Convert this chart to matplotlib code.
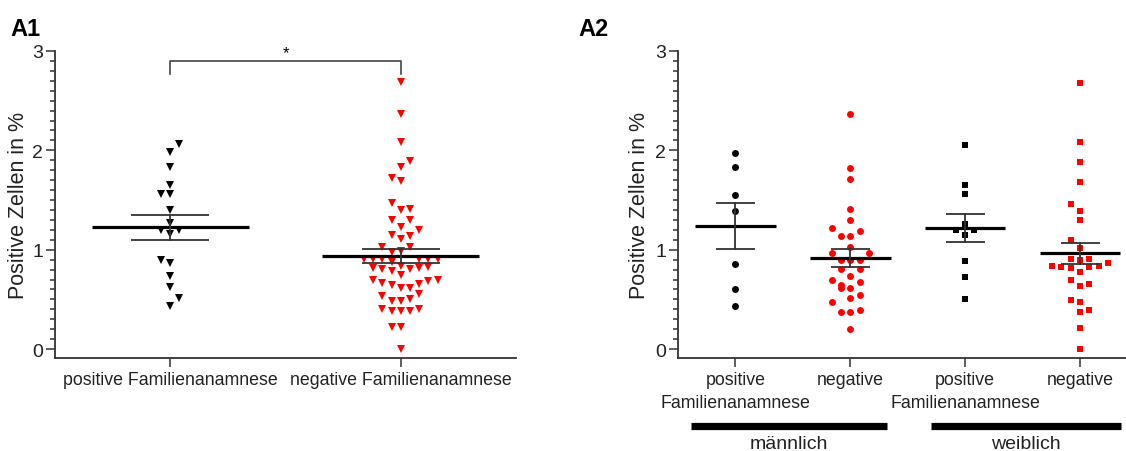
import numpy as np
import matplotlib
matplotlib.use("Agg")
import matplotlib.pyplot as plt
import matplotlib.transforms as mtransforms

plt.rcParams['font.family'] = ['Liberation Sans', 'DejaVu Sans']

# ---- Daten ----
# A1: alle Patienten
a1_labels = ["positive Familienanamnese", "negative Familienanamnese"]
a1_pos = [2.06, 1.98, 1.83, 1.65, 1.56, 1.56, 1.40, 1.27, 1.20, 1.20,
          1.16, 0.90, 0.87, 0.74, 0.62, 0.51, 0.43]
a1_neg = [2.69, 2.37, 2.08, 1.89, 1.83, 1.72, 1.69, 1.47, 1.40, 1.41,
          1.30, 1.30, 1.23, 1.20, 1.15, 1.14, 1.11, 1.03, 1.03, 0.98,
          0.99, 0.91, 0.91, 0.91, 0.91, 0.91, 0.91, 0.88,
          0.82, 0.81, 0.79, 0.84, 0.81, 0.82, 0.83, 0.75,
          0.70, 0.66, 0.64, 0.61, 0.61, 0.65, 0.68, 0.70,
          0.53, 0.55, 0.48, 0.48, 0.50,
          0.40, 0.38, 0.38, 0.38, 0.40, 0.22, 0.22, 0.00]
a1_mean = [1.225, 0.94]
a1_sem = [0.125, 0.07]

# A2: nach Geschlecht
a2_labels = ["positive\nFamilienanamnese", "negative",
             "positive\nFamilienanamnese", "negative"]
a2_m_pos = [1.97, 1.83, 1.55, 1.39, 0.86, 0.60, 0.43]
a2_m_neg = [2.37, 1.82, 1.71, 1.41, 1.30, 1.22, 1.19, 1.14, 1.14, 1.03,
            0.97, 0.97, 0.90, 0.90, 0.90, 0.81, 0.81, 0.74, 0.70, 0.67,
            0.64, 0.61, 0.61, 0.54, 0.51, 0.47, 0.39, 0.37, 0.37, 0.20]
a2_w_pos = [2.05, 1.65, 1.56, 1.26, 1.20, 1.20, 1.15, 0.89, 0.73, 0.50]
a2_w_neg = [2.68, 2.08, 1.88, 1.68, 1.46, 1.39, 1.30, 1.10, 1.02,
            0.91, 0.90, 0.91, 0.84, 0.83, 0.82, 0.83, 0.84, 0.87,
            0.78, 0.70, 0.63, 0.65, 0.49, 0.47, 0.37, 0.39, 0.21, 0.00]
a2_mean = [1.24, 0.92, 1.22, 0.965]
a2_sem = [0.23, 0.09, 0.14, 0.105]
sex_labels = ["männlich", "weiblich"]

# Spaltenplätze im Schwarm (wie im Original angeordnet)
slot_a1_pos = [1, 0, 0, 0, -1, 0, 0, 0, -1, 1, 0, -1, 0, 0, 0, 1, 0]
slot_a1_neg = [0, 0, 0, 1, 0, -1, 0, -1, 0, 1,
               -1, 1, 0, 2, -1, 1, 0, -2, 1, -1,
               0, -4, -3, -2, 2, 3, 4, -1,
               -3, -2, -1, 0, 1, 2, 3, 0,
               -3, -2, -1, 0, 1, 2, 3, 4,
               -2, 2, -1, 0, 1,
               -2, -1, 0, 1, 2, -1, 0, 0]
slot_m_pos = [0, 0, 0, 0, 0, 0, 0]
slot_m_neg = [0, 0, 0, 0, 0, -2, 1, -1, 0, 0,
              -2, 2, -1, 0, 1, -1, 1, 0, -2, 1,
              -1, -1, 0, 1, 0, -2, 1, -1, 0, 0]
slot_w_pos = [0, 0, 0, 0, -1, 1, 0, 0, 0, 0]
slot_w_neg = [0, 0, 0, 0, -1, 0, 0, -1, 0,
              -1, 0, 1, -3, -2, -1, 1, 2, 3,
              0, -1, 0, 1, -1, 0, 0, 1, 0, 0]

AX_COL = "#333333"
TXT_COL = "#222222"


def draw_group(ax, x, vals, slots, step, marker, color, ms, mean, sem, hw_mean, hw_cap):
    xs = x + np.array(slots) * step
    ax.plot(xs, vals, linestyle="none", marker=marker, color=color,
            markersize=ms, markeredgewidth=0, zorder=2, clip_on=False)
    ax.plot([x - hw_mean, x + hw_mean], [mean, mean], color="black", lw=2.3,
            zorder=3, solid_capstyle="butt")
    for y in (mean - sem, mean + sem):
        ax.plot([x - hw_cap, x + hw_cap], [y, y], color=AX_COL, lw=1.3,
                zorder=3, solid_capstyle="butt")
    ax.plot([x, x], [mean - sem, mean + sem], color=AX_COL, lw=1.3, zorder=3)


def style_axes(ax):
    ax.set_ylim(-0.09, 3.0)
    ax.set_yticks([0, 1, 2, 3])
    ax.set_yticks(np.arange(0, 3.01, 0.1), minor=True)
    for s in ("top", "right"):
        ax.spines[s].set_visible(False)
    for s in ("left", "bottom"):
        ax.spines[s].set_color(AX_COL)
        ax.spines[s].set_linewidth(1.3)
    ax.tick_params(axis="both", which="major", length=6.5, width=1.1,
                   color=AX_COL, labelcolor=TXT_COL, pad=2)
    ax.tick_params(axis="y", which="major", labelsize=14)
    ax.tick_params(axis="x", which="major", labelsize=12.8, pad=3)
    ax.tick_params(axis="y", which="minor", length=3.8, width=1.1, color=AX_COL)
    ax.tick_params(axis="x", which="minor", length=0)
    ax.set_ylabel("Positive Zellen in %", fontsize=15.5, color=TXT_COL)


fig = plt.figure(figsize=(11.26, 4.52), dpi=100)
ax1 = fig.add_axes([55 / 1126, 93 / 452, 461 / 1126, 307 / 452])
ax2 = fig.add_axes([678 / 1126, 93 / 452, 448 / 1126, 307 / 452])

# ---- A1 ----
style_axes(ax1)
ax1.set_xlim(-0.5, 1.5)
draw_group(ax1, 0, a1_pos, slot_a1_pos, 0.040, "v", "black", 5.8,
           a1_mean[0], a1_sem[0], 0.34, 0.17)
draw_group(ax1, 1, a1_neg, slot_a1_neg, 0.040, "v", "red", 5.8,
           a1_mean[1], a1_sem[1], 0.34, 0.17)
ax1.set_xticks([0, 1])
ax1.set_xticklabels(a1_labels)
ax1.yaxis.set_label_coords(-0.057, 0.5)
# Signifikanzklammer
ax1.plot([0, 0, 1, 1], [2.77, 2.90, 2.90, 2.77], color="#444444", lw=1.2,
         clip_on=False)
ax1.text(0.5, 2.91, "*", ha="center", va="bottom", fontsize=12)

# ---- A2 ----
style_axes(ax2)
ax2.set_xlim(-0.5, 3.4)
step2 = 0.081
draw_group(ax2, 0, a2_m_pos, slot_m_pos, step2, "o", "black", 5.0,
           a2_mean[0], a2_sem[0], 0.35, 0.17)
draw_group(ax2, 1, a2_m_neg, slot_m_neg, step2, "o", "red", 5.0,
           a2_mean[1], a2_sem[1], 0.35, 0.17)
draw_group(ax2, 2, a2_w_pos, slot_w_pos, step2, "s", "black", 5.0,
           a2_mean[2], a2_sem[2], 0.35, 0.17)
draw_group(ax2, 3, a2_w_neg, slot_w_neg, step2, "s", "red", 5.0,
           a2_mean[3], a2_sem[3], 0.35, 0.17)
ax2.set_xticks([0, 1, 2, 3])
ax2.set_xticklabels(a2_labels, linespacing=1.45)
ax2.yaxis.set_label_coords(-0.062, 0.5)

trans = mtransforms.blended_transform_factory(ax2.transData, ax2.transAxes)
for (x0, x1), lab in zip([(-0.39, 1.32), (1.70, 3.36)], sex_labels):
    ax2.plot([x0, x1], [-0.22, -0.22], color="black", lw=5.2,
             solid_capstyle="butt", transform=trans, clip_on=False)
    ax2.text((x0 + x1) / 2, -0.252, lab, ha="center", va="top", fontsize=14,
             color=TXT_COL, transform=trans)

fig.text(10 / 1126, 1 - 36 / 452, "A1", fontsize=17, fontweight="bold")
fig.text(578 / 1126, 1 - 36 / 452, "A2", fontsize=17, fontweight="bold")

fig.savefig("out.png", dpi=100)
